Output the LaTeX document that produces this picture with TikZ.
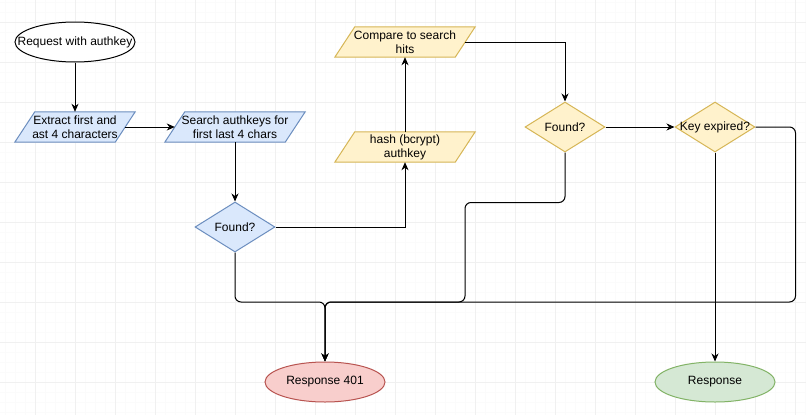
\documentclass[tikz,border=0pt]{standalone}
\usepackage{fontspec}
\setmainfont{Liberation Sans}
\usetikzlibrary{shapes.geometric,arrows.meta,backgrounds}
\definecolor{bluefill}{HTML}{DAE8FC}
\definecolor{blueline}{HTML}{6C8EBF}
\definecolor{yelfill}{HTML}{FFF2CC}
\definecolor{yelline}{HTML}{D6B656}
\definecolor{redfill}{HTML}{F8CECC}
\definecolor{redline}{HTML}{B85450}
\definecolor{grnfill}{HTML}{D5E8D4}
\definecolor{grnline}{HTML}{82B366}
\definecolor{gridmajor}{HTML}{F0F0F0}
\definecolor{gridminor}{HTML}{FBFBFB}
\begin{document}
\begin{tikzpicture}[x=1pt,y=-1pt,
  every node/.style={font=\fontsize{12}{14}\selectfont, text=black},
  termnode/.style={ellipse, draw, line width=1pt, minimum width=120pt, minimum height=40pt, inner sep=0pt},
  paranode/.style={rectangle, draw=none, minimum height=30pt, inner sep=0pt, align=center},
  decnode/.style={diamond, draw, line width=1pt, minimum width=80pt, minimum height=50pt, inner sep=0pt},
  arr/.style={line width=1pt, -{Stealth[length=8pt,width=7pt,inset=2.5pt]}},
  flowline/.style={arr, rounded corners=6pt}
]
\useasboundingbox (0,0) rectangle (806,415);

% nodes
\node[termnode, fill=white, label={center:Request with authkey}] (req) at (75,42) {};
\node[paranode, minimum width=120pt] (p1) at (75,127) {Extract first and\\ast 4 characters};
\node[paranode, minimum width=140pt] (p2) at (235,127) {Search authkeys for\\first last 4 chars};
\node[decnode, fill=bluefill, draw=blueline, label={center:Found?}] (f1) at (235,227) {};
\node[paranode, minimum width=140pt] (hash) at (405,147) {hash (bcrypt)\\authkey};
\node[paranode, minimum width=140pt] (cmp) at (405,42) {Compare to search\\hits};
\node[decnode, fill=yelfill, draw=yelline, label={center:Found?}] (f2) at (565,127) {};
\node[decnode, fill=yelfill, draw=yelline, label={center:Key expired?}] (ke) at (715,127) {};
\node[termnode, fill=redfill, draw=redline, label={center:Response 401}] (r401) at (325,382) {};
\node[termnode, fill=grnfill, draw=grnline, label={center:Response}] (resp) at (715,382) {};
\coordinate (join) at (325,302);

% background: grid and parallelogram shapes
\begin{pgfonlayer}{background}
  \fill[white] (0,0) rectangle (806,415);
  \foreach \x in {5.5,15.5,...,805.5} \draw[gridminor, line width=1pt] (\x,0) -- (\x,415);
  \foreach \y in {2.7,12.7,...,412.7} \draw[gridminor, line width=1pt] (0,\y) -- (806,\y);
  \foreach \x in {35.5,75.5,...,795.5} \draw[gridmajor, line width=1pt] (\x,0) -- (\x,415);
  \foreach \y in {22.7,62.7,...,382.7} \draw[gridmajor, line width=1pt] (0,\y) -- (806,\y);
  \foreach \n/\c in {p1/blue,p2/blue,hash/yel,cmp/yel}
    \draw[line width=1pt, draw=\c line, fill=\c fill]
      ([xshift=20pt]\n.north west) -- (\n.north east) -- ([xshift=-20pt]\n.south east) -- (\n.south west) -- cycle;
\end{pgfonlayer}

% connectors
\draw[arr] (req.south) -- (p1.north);
\draw[arr] ([xshift=-10pt]p1.east) -- ([xshift=10pt]p2.west);
\draw[arr] (p2.south) -- (f1.north);
\draw[arr] (f1.east) -| (hash.south);
\draw[arr] (hash.north) -- (cmp.south);
\draw[arr] ([xshift=-10pt]cmp.east) -| (f2.north);
\draw[arr] (f2.east) -- (ke.west);
\draw[arr] (ke.south) -- (resp.north);
\draw[flowline] (f1.south) |- (join) -- (r401.north);
\draw[flowline] (f2.south) -- ++(0,50) -- ++(-100,0) |- (join) -- (r401.north);
\draw[flowline] (ke.east) -- ++(40,0) |- (join) -- (r401.north);
\end{tikzpicture}
\end{document}
